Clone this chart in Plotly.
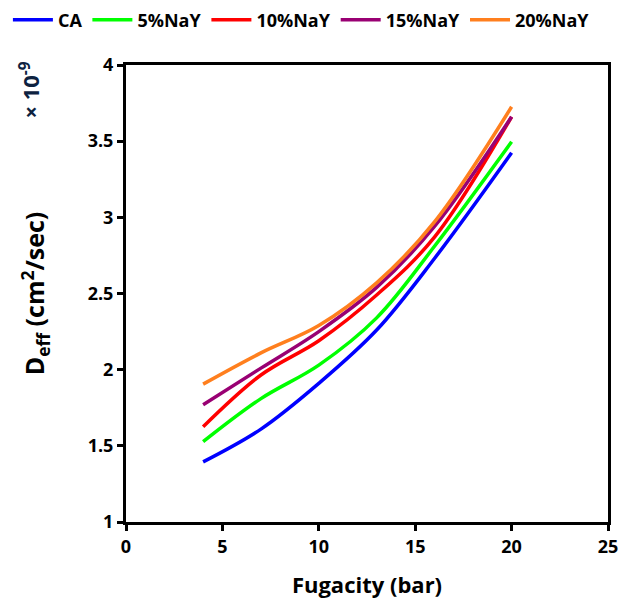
import plotly.graph_objects as go

# fugacity (bar) and effective diffusivity (x 1e-9 cm2/sec)
fugacity = [4, 7, 10, 13, 16, 20]
d_ca = [1.395, 1.61, 1.91, 2.26, 2.73, 3.424]
d_5nay = [1.527, 1.81, 2.03, 2.34, 2.81, 3.496]
d_10nay = [1.625, 1.965, 2.19, 2.49, 2.87, 3.66]
d_15nay = [1.77, 2.01, 2.25, 2.54, 2.94, 3.66]
d_20nay = [1.905, 2.11, 2.29, 2.57, 2.97, 3.726]

series_names = ["CA", "5%NaY", "10%NaY", "15%NaY", "20%NaY"]
series_values = [d_ca, d_5nay, d_10nay, d_15nay, d_20nay]
colors = ["#0000FF", "#00FF00", "#FF0000", "#990073", "#FF7F1E"]

font_family = "Open Sans, Liberation Sans, sans-serif"

fig = go.Figure()

for name, vals, col in zip(series_names, series_values, colors):
    fig.add_trace(go.Scatter(
        x=fugacity,
        y=vals,
        mode="lines",
        name=name,
        line=dict(color=col, width=3.5, shape="spline", smoothing=1.0),
    ))

axis_style = dict(
    showline=True,
    linecolor="black",
    linewidth=3,
    mirror=True,
    ticks="outside",
    ticklen=6,
    tickwidth=3,
    tickcolor="black",
    showgrid=False,
    zeroline=False,
    tickfont=dict(family=font_family, size=18, color="black", weight="bold"),
)

fig.update_xaxes(
    range=[0, 25],
    dtick=5,
    title=dict(text="Fugacity (bar)", standoff=22,
               font=dict(family=font_family, size=22, color="black", weight="bold")),
    **axis_style,
)
fig.update_yaxes(
    range=[1, 4],
    dtick=0.5,
    title=dict(text="D<sub>eff</sub> (cm<sup>2</sup>/sec)", standoff=36,
               font=dict(family=font_family, size=25, color="black", weight="bold")),
    **axis_style,
)

# exponent note at the top-left of the y axis
fig.add_annotation(
    text="× 10<sup>-9</sup>",
    xref="paper", yref="paper",
    x=-0.201, y=1.011,
    xanchor="center", yanchor="top",
    textangle=-90,
    showarrow=False,
    font=dict(family=font_family, size=22, color="#0D2240", weight="bold"),
)

# page body adds an 8px offset, so the figure is 8px smaller each way
fig.update_layout(
    width=622,
    height=597,
    margin=dict(l=118, r=22, t=57, b=83, autoexpand=False),
    plot_bgcolor="white",
    paper_bgcolor="white",
    showlegend=True,
    legend=dict(
        orientation="h",
        x=-0.245, y=1.0985,
        xanchor="left", yanchor="middle",
        font=dict(family=font_family, size=18, color="black", weight="bold"),
        itemwidth=40,
        tracegroupgap=0,
    ),
)

fig.write_html("out.html")
